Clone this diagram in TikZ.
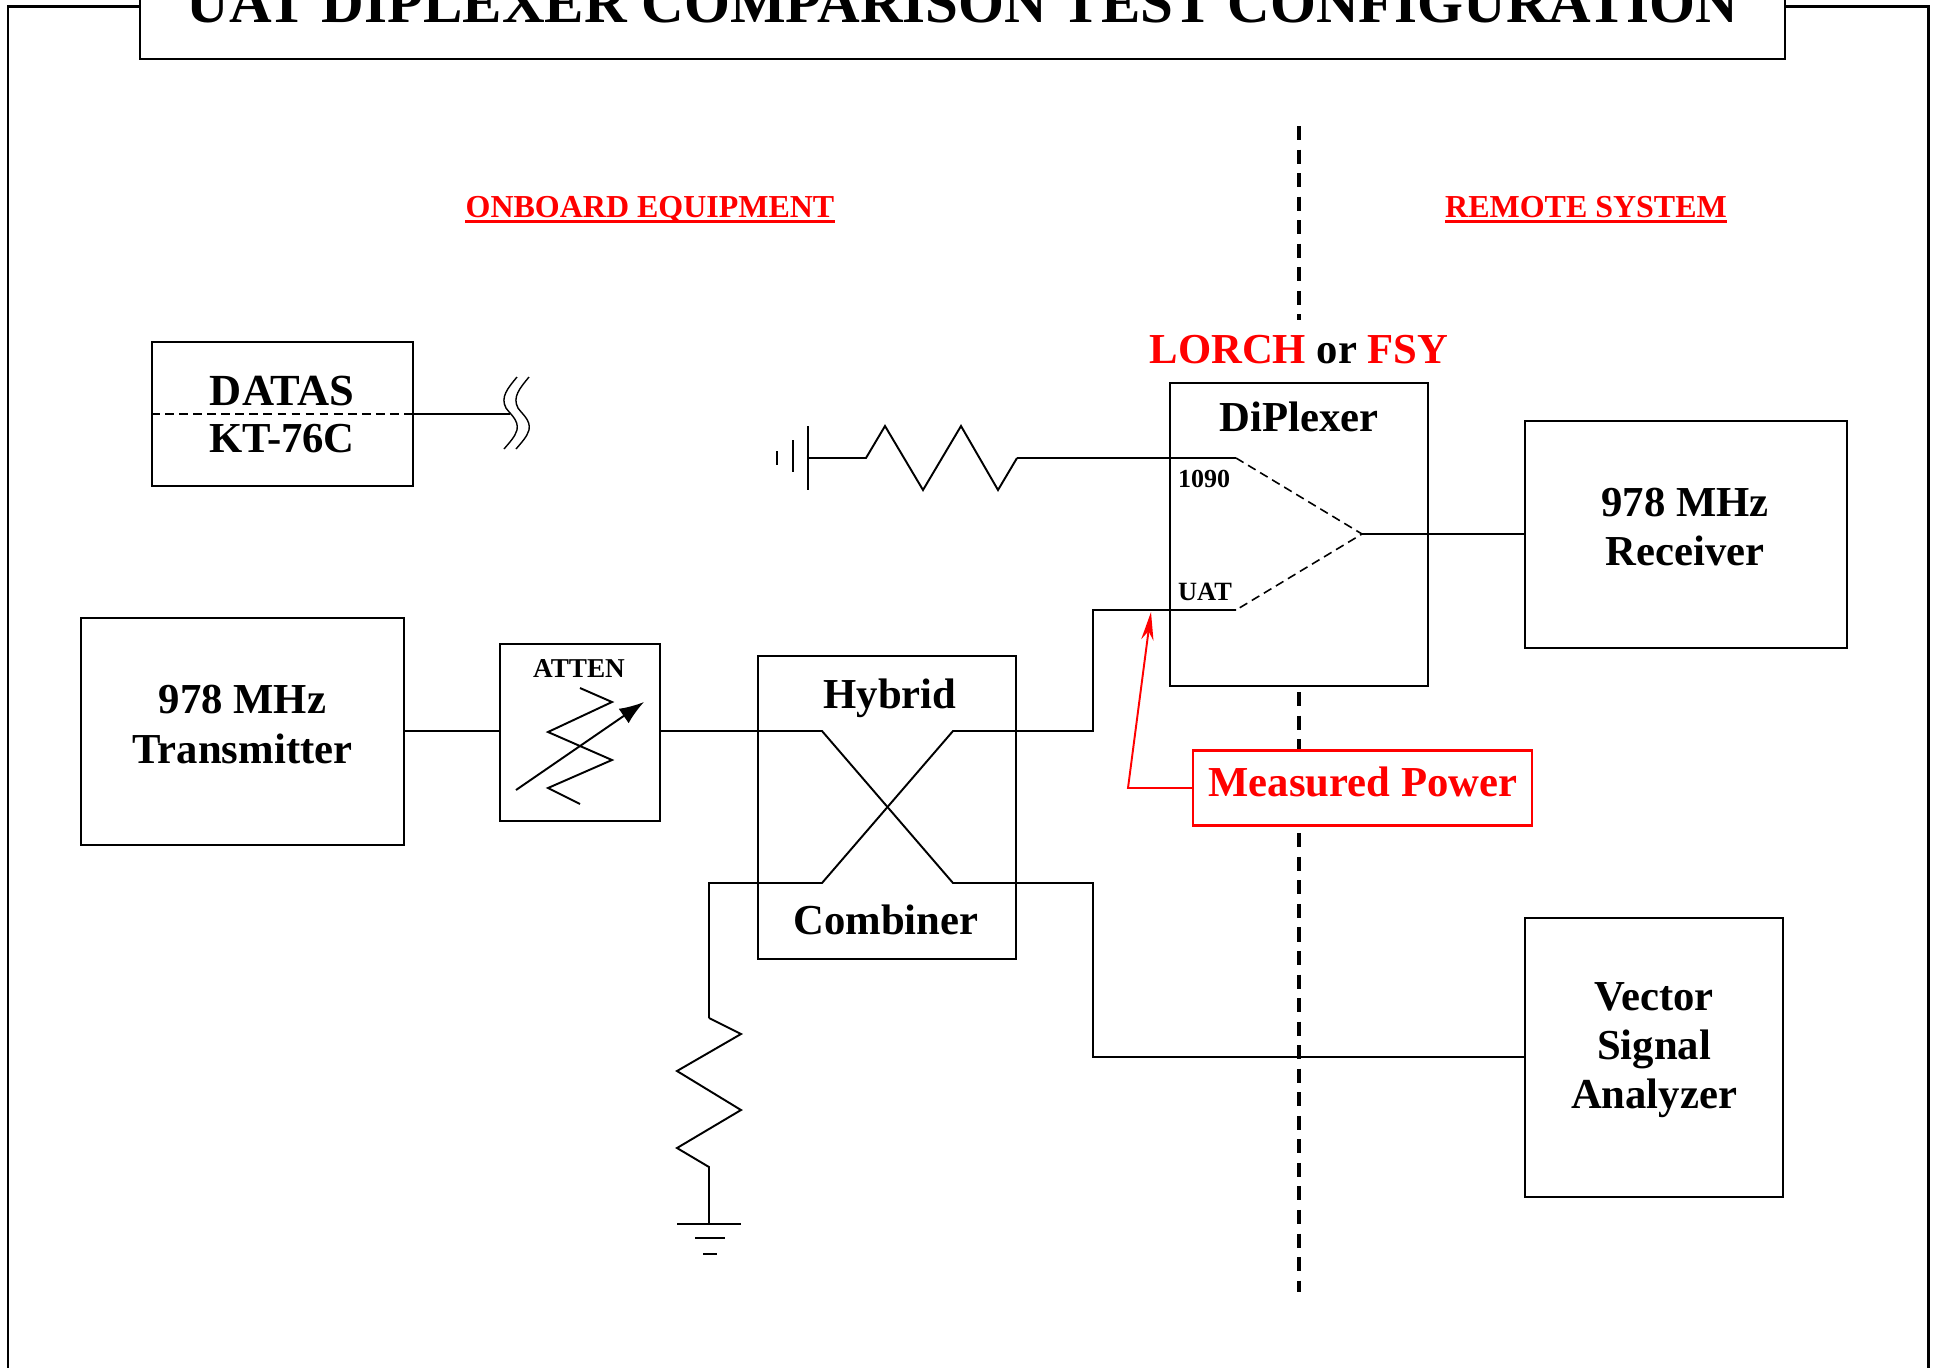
\documentclass[tikz,border=0pt]{standalone}
\usepackage{fontspec}
\setmainfont{Liberation Serif}
\usetikzlibrary{positioning}
\usetikzlibrary{calc}
\usetikzlibrary{arrows.meta}

\begin{document}
\begin{tikzpicture}[x=0.02cm, y=-0.02cm, font=\fontsize{24.3}{27.9}\selectfont\bfseries,
  box/.style={draw, line width=1.1pt, fill=white, inner sep=0pt, align=center},
  lbl/.style={inner sep=0pt, align=center},
  wire/.style={draw, line width=1.1pt},
  dashwire/.style={draw, line width=0.9pt, dash pattern=on 5pt off 3pt},
  boundary/.style={draw, line width=1.9pt, dash pattern=on 8pt off 5.4pt},
  port/.style={font=\fontsize{14.8}{16}\selectfont\bfseries, inner sep=0pt},
  hdr/.style={text=red, font=\fontsize{18.2}{20}\selectfont\bfseries, inner sep=0pt, text depth=2.5pt, anchor=base},
  under/.style={draw=red, line width=1.5pt},
  callout/.style={draw=red, fill=none, line width=1.1pt, -{Stealth[length=16pt,width=7pt,inset=5pt,fill=red]}},
]
\useasboundingbox (0,0) rectangle (1937,1367);
%frame and title
\draw[line width=1.7pt] (140,6) -- (8,6) -- (8,1400);
\draw[line width=1.7pt] (1785,6) -- (1928,6) -- (1928,1400);
\node[box, minimum width=1645*0.02cm, minimum height=90*0.02cm] (title) at (962.5,14) {};
\node[lbl, font=\fontsize{33.6}{38}\selectfont\bfseries] (title-lbl) at (962.5,3)
  {UAT DIPLEXER COMPARISON TEST CONFIGURATION};
%sides
\draw[boundary] (1299,126) -- (1299,320);
\draw[boundary] (1299,692) -- (1299,1292);
\node[hdr] (onboard) at (650,217) {ONBOARD EQUIPMENT};
\node[hdr] (remote)  at (1586,217) {REMOTE SYSTEM};
\draw[under] (onboard.south west) -- (onboard.south east);
\draw[under] (remote.south west) -- (remote.south east);
%onboard boxes
\node[box, minimum width=261*0.02cm, minimum height=144*0.02cm] (datas) at (282.5,414) {};
\node[lbl, font=\fontsize{25.3}{28}\selectfont\bfseries] (datas-t) at (282,391) {DATAS};
\node[lbl] (kt)      at (282,439) {KT-76C};
\node[box, minimum width=323*0.02cm, minimum height=227*0.02cm] (tx) at (242.5,731.5) {};
\node[lbl] (tx-lbl) at (242.5,724.5) {978 MHz\\Transmitter};
\node[box, minimum width=160*0.02cm, minimum height=177*0.02cm] (atten) at (580,732.5) {};
\node[port, font=\fontsize{15.5}{16}\selectfont\bfseries] (atten-lbl) at (579,668) {ATTEN};
\node[box, minimum width=258*0.02cm, minimum height=303*0.02cm] (hybrid) at (887,807.5) {};
\node[lbl] (hybrid-t) at (890,698) {Hybrid};
\node[lbl] (hybrid-b) at (886,920) {Combiner};
%remote and diplexer boxes
\node[box, minimum width=258*0.02cm, minimum height=303*0.02cm] (dip) at (1299,534.5) {};
\node[lbl] (dip-t) at (1299,417) {DiPlexer};
\node[lbl] (vendors) at (1299,350) {\textcolor{red}{LORCH} or \textcolor{red}{FSY}};
\node[port] (p1090) at (1204,479) {1090};
\node[port, font=\fontsize{15}{16}\selectfont\bfseries] (puat)  at (1205,592) {UAT};
\node[box, minimum width=322*0.02cm, minimum height=227*0.02cm] (rx) at (1686,534.5) {};
\node[lbl] (rx-lbl) at (1685,527) {978 MHz\\Receiver};
\node[box, minimum width=258*0.02cm, minimum height=279*0.02cm] (vsa) at (1654,1057.5) {};
\node[lbl] (vsa-lbl) at (1654,1050.5) {Vector\\Signal\\Analyzer};
\node[box, draw=red, line width=1.2pt, minimum width=339*0.02cm, minimum height=75*0.02cm] (power) at (1362.5,788) {};
\node[lbl, text=red] (power-lbl) at (1363,782) {Measured Power};
%ports of the couplers
\coordinate (h-il) at (822,731);
\coordinate (h-ir) at (953,731);
\coordinate (h-bl) at (822,883);
\coordinate (h-br) at (953,883);
\coordinate (d-a) at (1236,458);
\coordinate (d-b) at (1236,610);
\coordinate (d-o) at (1362,534);
\coordinate (r1-e) at (1017,458);
\coordinate (r2-n) at (709,1018);
\coordinate (r2-t) at (709,883);
\coordinate (u-c) at (1093,610);
\coordinate (u-d) at (1093,731);
\coordinate (v-c) at (1093,883);
\coordinate (v-d) at (1093,1057);
\coordinate (m-t) at (1151,612);
\coordinate (m-c) at (1128,788);
%wires
\draw[wire] (tx.east |- h-il) -- (atten.west |- h-il);
\draw[wire] (atten.east |- h-il) -- (h-il) -- (h-br) -- (v-c) -- (v-d) -- (vsa.west |- v-d);
\draw[wire] (r2-n) -- (r2-t) -- (h-bl) -- (h-ir) -- (u-d) -- (u-c) -- (d-b);
\draw[wire] (r1-e) -- (d-a);
\draw[wire] (d-o) -- (rx.west |- d-o);
\draw[dashwire] (d-a) -- (d-o) -- (d-b);
\draw[dashwire] (datas.west) -- (datas.east);
\draw[wire] (datas.east) -- (510,414);
%load on the combiner
\draw[wire] (r2-n) -- (741,1034) -- (677,1071) -- (741,1110) -- (677,1148) -- (709,1167) -- (709,1224);
\draw[wire] (677,1224) -- (741,1224) (695,1238) -- (725,1238) (703,1254) -- (717,1254);
%load on the 1090 port
\draw[wire] (r1-e) -- (998,490) -- (961,426) -- (923,490) -- (885,426) -- (866,458) -- (808,458);
\draw[wire] (808,426) -- (808,490) (793,440) -- (793,472) (777,451) -- (777,465);
%attenuator symbol
\draw[wire] (580,688) -- (612,702) -- (548,732) -- (612,760) -- (548,788) -- (580,804);
\draw[wire, -{Latex[length=14pt,width=10pt]}] (516,790) -- (644,702);
%cable break
\draw[line width=0.8pt] (517,377) .. controls (508,388) and (500,397) .. (506,408) .. controls (510,414) and (519,420) .. (517,430) .. controls (515,437) and (509,443) .. (504,449);
\draw[line width=0.8pt] (529,377) .. controls (520,388) and (512,397) .. (518,408) .. controls (522,414) and (531,420) .. (529,430) .. controls (527,437) and (521,443) .. (516,449);
%measured power callout
\draw[callout] (power.west) -- (m-c) -- (m-t);
\end{tikzpicture}
\end{document}
